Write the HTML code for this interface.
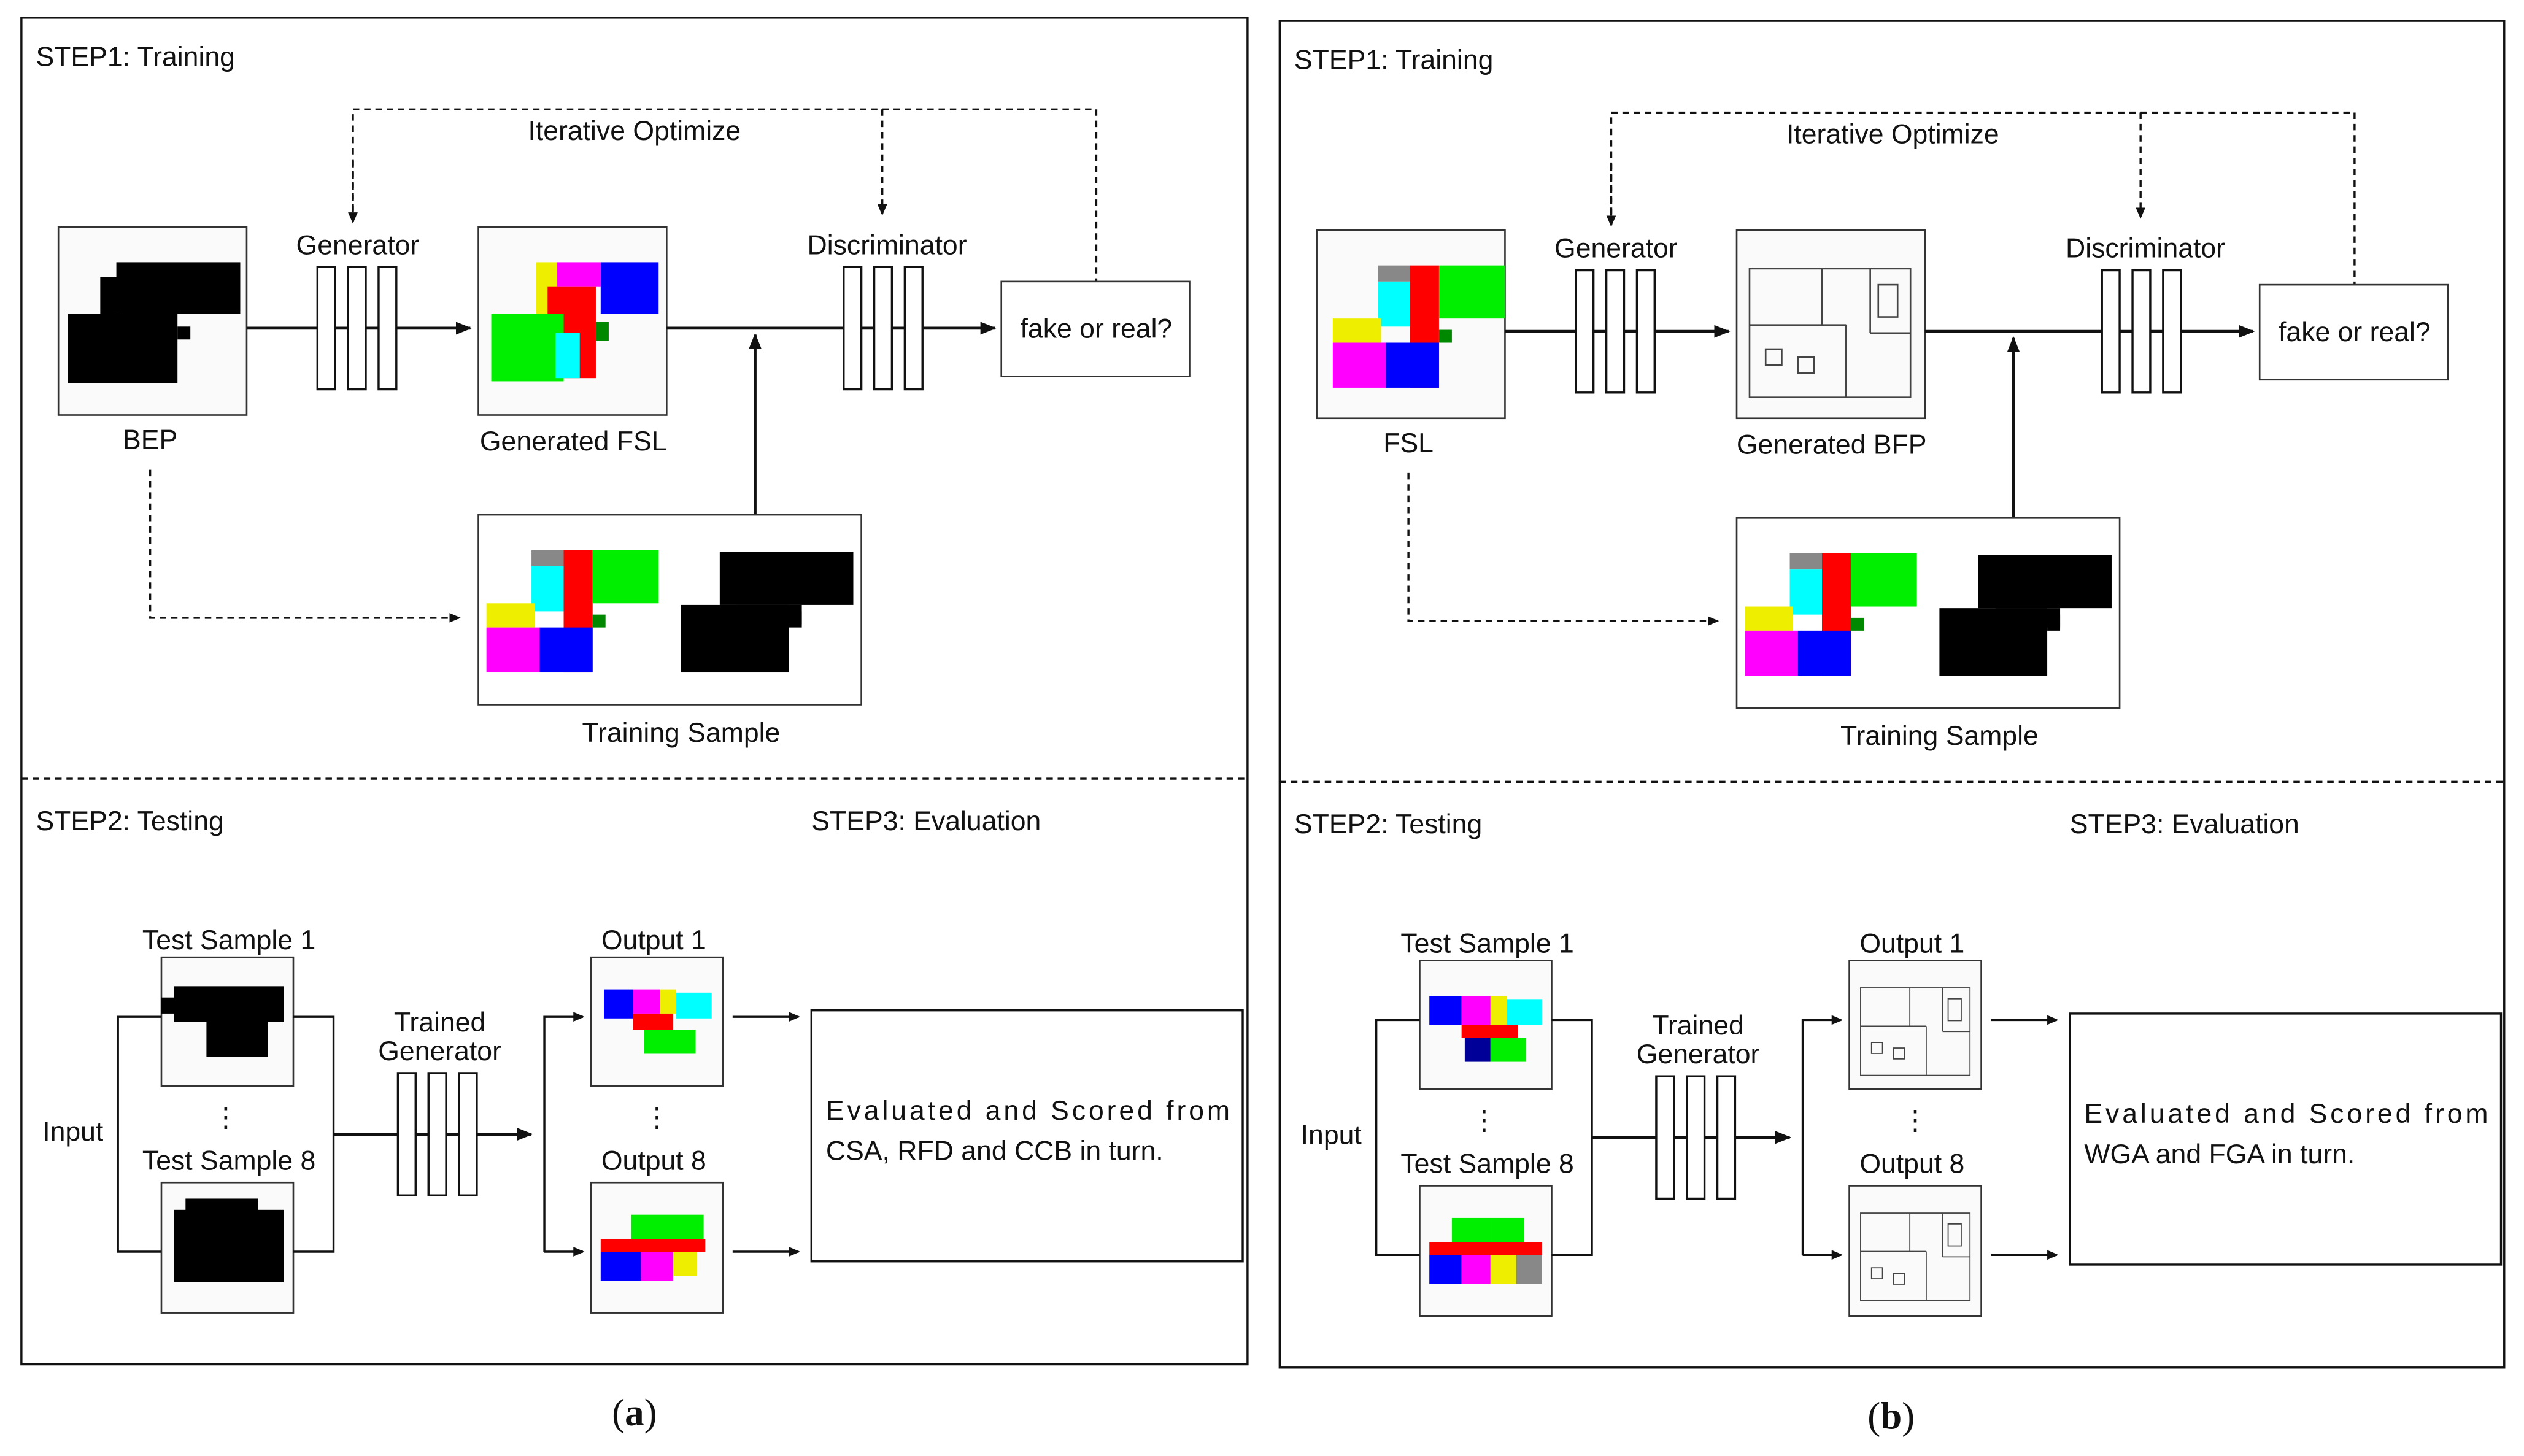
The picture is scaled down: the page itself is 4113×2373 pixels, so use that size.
<!DOCTYPE html>
<html><head><meta charset="utf-8">
<style>
html,body{margin:0;padding:0;background:#fff;}
svg{display:block;}
text{font-family:"Liberation Sans",sans-serif;fill:#111;}
</style></head><body>
<svg width="4113" height="2373" viewBox="0 0 1568 905" xmlns="http://www.w3.org/2000/svg">
<defs>
<marker id="ar" markerWidth="10" markerHeight="8" refX="9" refY="4" orient="auto" markerUnits="userSpaceOnUse">
<path d="M0,0 L10,4 L0,8 z" fill="#111"/></marker>
<marker id="as" markerWidth="7" markerHeight="6" refX="6" refY="3" orient="auto" markerUnits="userSpaceOnUse">
<path d="M0,0 L7,3 L0,6 z" fill="#111"/></marker>
<g id="bars">
<rect x="0" y="0" width="11" height="76" fill="#fff" stroke="#111" stroke-width="1.3"/>
<rect x="19" y="0" width="11" height="76" fill="#fff" stroke="#111" stroke-width="1.3"/>
<rect x="38" y="0" width="11" height="76" fill="#fff" stroke="#111" stroke-width="1.3"/>
</g>
<g id="col">
<rect x="0" y="0" width="20" height="10" fill="#888"/>
<rect x="0" y="10" width="20" height="28" fill="#0ff"/>
<rect x="20" y="0" width="18" height="76" fill="#f00"/>
<rect x="38" y="0" width="41" height="33" fill="#0e0"/>
<rect x="-28" y="33" width="30" height="15" fill="#ee0"/>
<rect x="-28" y="48" width="33" height="28" fill="#f0f"/>
<rect x="5" y="48" width="33" height="28" fill="#00f"/>
<rect x="38" y="40" width="8" height="8" fill="#080"/>
</g>
<g id="common">
<text x="22" y="41" font-size="17">STEP1: Training</text>
<text x="394" y="87" font-size="17" text-anchor="middle">Iterative Optimize</text>
<path d="M219,138 V68 H681 V175" fill="none" stroke="#111" stroke-width="1.3" stroke-dasharray="4,3"/>
<line x1="219" y1="100" x2="219" y2="138" stroke="#111" stroke-width="1.3" stroke-dasharray="4,3" marker-end="url(#as)"/>
<line x1="548" y1="68" x2="548" y2="133" stroke="#111" stroke-width="1.3" stroke-dasharray="4,3" marker-end="url(#as)"/>
<rect x="36" y="141" width="117" height="117" fill="#fafafa" stroke="#333" stroke-width="1"/>
<text x="222" y="158" font-size="17" text-anchor="middle">Generator</text>
<line x1="153" y1="204" x2="292" y2="204" stroke="#111" stroke-width="1.8" marker-end="url(#ar)"/>
<use href="#bars" x="197" y="166"/>
<rect x="297" y="141" width="117" height="117" fill="#fafafa" stroke="#333" stroke-width="1"/>
<text x="551" y="158" font-size="17" text-anchor="middle">Discriminator</text>
<line x1="414" y1="204" x2="618" y2="204" stroke="#111" stroke-width="1.8" marker-end="url(#ar)"/>
<use href="#bars" x="524" y="166"/>
<rect x="622" y="175" width="117" height="59" fill="#fff" stroke="#333" stroke-width="1"/>
<text x="681" y="210" font-size="17" text-anchor="middle">fake or real?</text>
<line x1="469" y1="320" x2="469" y2="208" stroke="#111" stroke-width="1.8" marker-end="url(#ar)"/>
<rect x="297" y="320" width="238" height="118" fill="#fff" stroke="#333" stroke-width="1"/>
<text x="423" y="461" font-size="17" text-anchor="middle">Training Sample</text>
<path d="M93,292 V384 H285" fill="none" stroke="#111" stroke-width="1.3" stroke-dasharray="4,3" marker-end="url(#as)"/>
<use href="#col" x="330" y="342"/>
<g fill="#000">
<rect x="447" y="343" width="83" height="33"/><rect x="423" y="376" width="67" height="42"/><rect x="458" y="376" width="40" height="12"/><rect x="490" y="380" width="8" height="10"/>
</g>
<line x1="13" y1="484" x2="775" y2="484" stroke="#111" stroke-width="1.3" stroke-dasharray="4,3"/>
<text x="22" y="516" font-size="17">STEP2: Testing</text>
<text x="504" y="516" font-size="17">STEP3: Evaluation</text>
<text x="142" y="590" font-size="17" text-anchor="middle">Test Sample 1</text>
<rect x="100" y="595" width="82" height="80" fill="#fafafa" stroke="#333" stroke-width="1"/>
<text x="140" y="700" font-size="17" text-anchor="middle">⋮</text>
<text x="142" y="727" font-size="17" text-anchor="middle">Test Sample 8</text>
<rect x="100" y="735" width="82" height="81" fill="#fafafa" stroke="#333" stroke-width="1"/>
<text x="45" y="709" font-size="17" text-anchor="middle">Input</text>
<path d="M100,632 H73 V778 H100" fill="none" stroke="#111" stroke-width="1.3"/>
<path d="M182,632 H207 V778 H182" fill="none" stroke="#111" stroke-width="1.3"/>
<text x="273" y="641" font-size="17" text-anchor="middle">Trained</text>
<text x="273" y="659" font-size="17" text-anchor="middle">Generator</text>
<line x1="207" y1="705" x2="330" y2="705" stroke="#111" stroke-width="1.8" marker-end="url(#ar)"/>
<use href="#bars" x="247" y="667"/>
<path d="M338,778 V632 H362" fill="none" stroke="#111" stroke-width="1.3" marker-end="url(#as)"/>
<line x1="338" y1="778" x2="362" y2="778" stroke="#111" stroke-width="1.3" marker-end="url(#as)"/>
<text x="406" y="590" font-size="17" text-anchor="middle">Output 1</text>
<rect x="367" y="595" width="82" height="80" fill="#fafafa" stroke="#333" stroke-width="1"/>
<text x="408" y="700" font-size="17" text-anchor="middle">⋮</text>
<text x="406" y="727" font-size="17" text-anchor="middle">Output 8</text>
<rect x="367" y="735" width="82" height="81" fill="#fafafa" stroke="#333" stroke-width="1"/>
<line x1="455" y1="632" x2="496" y2="632" stroke="#111" stroke-width="1.3" marker-end="url(#as)"/>
<line x1="455" y1="778" x2="496" y2="778" stroke="#111" stroke-width="1.3" marker-end="url(#as)"/>
<rect x="504" y="628" width="268" height="156" fill="#fff" stroke="#111" stroke-width="1.3"/>
<text x="513" y="696" font-size="17" textLength="251" lengthAdjust="spacing">Evaluated  and  Scored  from</text>
</g>
<g id="plan" fill="none" stroke="#444" stroke-width="1">
<rect x="0" y="0" width="100" height="80"/>
<line x1="45" y1="0" x2="45" y2="35"/><line x1="0" y1="35" x2="60" y2="35"/><line x1="60" y1="35" x2="60" y2="80"/>
<line x1="75" y1="0" x2="75" y2="40"/><line x1="75" y1="40" x2="100" y2="40"/>
<rect x="10" y="50" width="10" height="10"/><rect x="30" y="55" width="10" height="10"/><rect x="80" y="10" width="12" height="20"/>
</g>
</defs>

<!-- Panel a -->
<rect x="13" y="11" width="762" height="837" fill="none" stroke="#111" stroke-width="1.3"/>
<use href="#common"/>
<text x="356" y="280" font-size="17" text-anchor="middle">Generated FSL</text>
<text x="93" y="279" font-size="17" text-anchor="middle">BEP</text>
<text x="513" y="721" font-size="17">CSA, RFD and CCB in turn.</text>
<g fill="#000"><rect x="72" y="163" width="77" height="32"/><rect x="42" y="195" width="68" height="43"/><rect x="110" y="203" width="8" height="8"/><rect x="62" y="172" width="12" height="23"/></g>
<g>
<rect x="333" y="163" width="13" height="32" fill="#ee0"/><rect x="346" y="163" width="27" height="15" fill="#f0f"/><rect x="373" y="163" width="36" height="32" fill="#00f"/>
<rect x="340" y="178" width="30" height="57" fill="#f00"/><rect x="305" y="195" width="45" height="42" fill="#0e0"/><rect x="345" y="207" width="15" height="28" fill="#0ff"/><rect x="370" y="200" width="8" height="12" fill="#080"/>
</g>
<g fill="#000"><rect x="108" y="613" width="68" height="22"/><rect x="128" y="635" width="38" height="22"/><rect x="100" y="620" width="10" height="10"/></g>
<g fill="#000"><rect x="108" y="752" width="68" height="45"/><rect x="115" y="745" width="45" height="10"/></g>
<g><rect x="375" y="615" width="18" height="18" fill="#00f"/><rect x="393" y="615" width="17" height="15" fill="#f0f"/><rect x="410" y="615" width="10" height="15" fill="#ee0"/><rect x="420" y="617" width="22" height="16" fill="#0ff"/><rect x="393" y="630" width="25" height="10" fill="#f00"/><rect x="400" y="640" width="32" height="15" fill="#0e0"/></g>
<g><rect x="392" y="755" width="45" height="20" fill="#0e0"/><rect x="373" y="770" width="65" height="8" fill="#f00"/><rect x="373" y="778" width="25" height="18" fill="#00f"/><rect x="398" y="778" width="20" height="18" fill="#f0f"/><rect x="418" y="778" width="15" height="15" fill="#ee0"/></g>
<text x="394" y="886" font-size="24" text-anchor="middle" style="font-family:'Liberation Serif',serif">(<tspan font-weight="bold">a</tspan>)</text>

<!-- Panel b -->
<rect x="795" y="13" width="761" height="837" fill="none" stroke="#111" stroke-width="1.3"/>
<g transform="translate(782,2)">
<use href="#common"/>
<text x="356" y="280" font-size="17" text-anchor="middle">Generated BFP</text>
<text x="93" y="279" font-size="17" text-anchor="middle">FSL</text>
<text x="513" y="721" font-size="17">WGA and FGA in turn.</text>
<use href="#col" x="74" y="163"/>
<use href="#plan" x="305" y="165"/>
<g><rect x="106" y="617" width="20" height="18" fill="#00f"/><rect x="126" y="617" width="18" height="18" fill="#f0f"/><rect x="144" y="617" width="10" height="18" fill="#ee0"/><rect x="154" y="619" width="22" height="16" fill="#0ff"/><rect x="126" y="635" width="35" height="8" fill="#f00"/><rect x="128" y="643" width="16" height="15" fill="#009"/><rect x="144" y="643" width="22" height="15" fill="#0e0"/></g>
<g><rect x="120" y="755" width="25" height="15" fill="#0e0"/><rect x="145" y="755" width="20" height="15" fill="#0e0"/><rect x="106" y="770" width="70" height="8" fill="#f00"/><rect x="106" y="778" width="20" height="18" fill="#00f"/><rect x="126" y="778" width="18" height="18" fill="#f0f"/><rect x="144" y="778" width="16" height="18" fill="#ee0"/><rect x="160" y="778" width="16" height="18" fill="#888"/></g>
<use href="#plan" x="374" y="612" transform="translate(374,612) scale(0.68) translate(-374,-612)"/>
<use href="#plan" x="374" y="752" transform="translate(374,752) scale(0.68) translate(-374,-752)"/>
</g>
<text x="1175" y="888" font-size="24" text-anchor="middle" style="font-family:'Liberation Serif',serif">(<tspan font-weight="bold">b</tspan>)</text>
</svg>
</body></html>
